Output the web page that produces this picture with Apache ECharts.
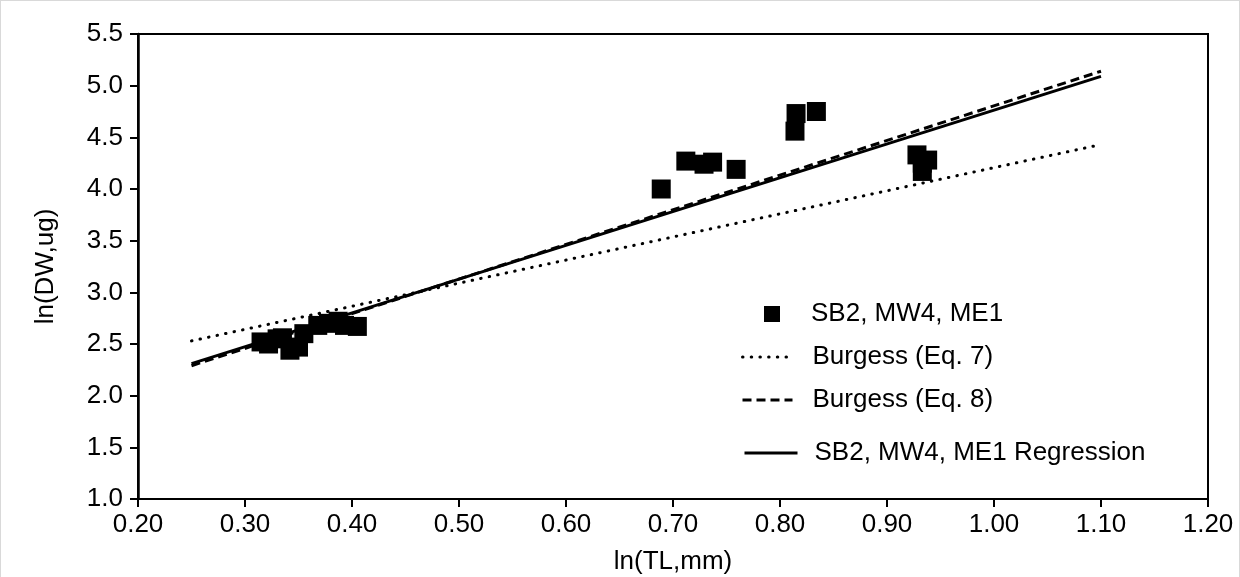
<!DOCTYPE html>
<html>
<head>
<meta charset="utf-8">
<script src="https://cdn.jsdelivr.net/npm/echarts@6/dist/echarts.min.js"></script>
<style>
html,body{margin:0;padding:0;background:#fff;}
#c{width:1238px;height:576px;border:1px solid #d9d9d9;border-bottom:none;}
</style>
</head>
<body>
<div id="c"></div>
<script>
// ---- data ----
const obsX = [0.315, 0.322, 0.330, 0.335, 0.342, 0.350, 0.355, 0.368, 0.378, 0.387, 0.393, 0.405,
              0.689, 0.712, 0.729, 0.737, 0.759,
              0.815, 0.814, 0.834,
              0.928, 0.933, 0.938, 0.933];
const obsY = [2.52, 2.50, 2.55, 2.56, 2.44, 2.47, 2.60, 2.68, 2.70, 2.72, 2.68, 2.67,
              4.00, 4.27, 4.24, 4.26, 4.19,
              4.73, 4.56, 4.75,
              4.33, 4.25, 4.28, 4.17];
const lineX = [0.25, 1.10];
const eq7Y = [2.53, 4.43];
const eq8Y = [2.29, 5.14];
const regY = [2.31, 5.09];
const names = ['SB2, MW4, ME1', 'Burgess (Eq. 7)', 'Burgess (Eq. 8)', 'SB2, MW4, ME1 Regression'];
const xTitle = 'ln(TL,mm)';
const yTitle = 'ln(DW,ug)';

const pairs = (xs, ys) => xs.map((x, i) => [x, ys[i]]);
const FONT = '"Liberation Sans", Arial, sans-serif';
const txt = {fontFamily: FONT, fontSize: 26, color: '#000'};
const dotted = {color: '#000', width: 3, type: [0.5, 8.2], cap: 'round'};
const dashed = {color: '#000', width: 3, type: [9, 5]};
const solid = {color: '#000', width: 3};

const chart = echarts.init(document.getElementById('c'));
function leg(name, left, top, w, h, pad, icon, ls) {
  const d = {name: name};
  if (icon) d.icon = icon;
  const o = {
    data: [d],
    left: left, top: top, orient: 'vertical', padding: 0,
    itemWidth: w, itemHeight: h, selectedMode: false,
    itemStyle: icon ? {opacity: 1} : {opacity: 0},
    textStyle: Object.assign({}, txt, {padding: [0, 0, 0, pad]})
  };
  if (ls) o.lineStyle = ls;
  return o;
}
chart.setOption({
  animation: false,
  backgroundColor: '#fff',
  grid: {left: 137, right: 31, top: 33, bottom: 78, show: true, borderColor: '#000', borderWidth: 2,
         outerBoundsMode: 'none', containLabel: false},
  legend: [
    leg(names[0], 763, 300, 16, 16, 26, 'rect'),
    leg(names[1], 740, 343, 50, 20, 15, null, dotted),
    leg(names[2], 740, 386, 50, 20, 15, null, dashed),
    leg(names[3], 742, 439, 53, 20, 12, null, solid)
  ],
  xAxis: {
    type: 'value', min: 0.2, max: 1.2, interval: 0.1,
    name: xTitle, nameLocation: 'middle', nameGap: 50, nameTextStyle: txt,
    axisLine: {lineStyle: {color: '#000', width: 2}},
    axisTick: {show: true, length: 8, lineStyle: {color: '#000', width: 2}},
    axisLabel: Object.assign({}, txt, {margin: 13, formatter: v => v.toFixed(2)}),
    splitLine: {show: false}
  },
  yAxis: {
    type: 'value', min: 1, max: 5.5, interval: 0.5,
    name: yTitle, nameLocation: 'middle', nameGap: 79, nameTextStyle: txt,
    axisLine: {lineStyle: {color: '#000', width: 2.5}},
    axisTick: {show: true, length: 8, lineStyle: {color: '#000', width: 2}},
    axisLabel: Object.assign({}, txt, {margin: 15, formatter: v => v.toFixed(1)}),
    splitLine: {show: false}
  },
  series: [
    {name: names[1], type: 'line', data: pairs(lineX, eq7Y), symbol: 'none',
     lineStyle: dotted, itemStyle: {color: '#000'}},
    {name: names[2], type: 'line', data: pairs(lineX, eq8Y), symbol: 'none',
     lineStyle: dashed, itemStyle: {color: '#000'}},
    {name: names[3], type: 'line', data: pairs(lineX, regY), symbol: 'none',
     lineStyle: solid, itemStyle: {color: '#000'}},
    {name: names[0], type: 'scatter', data: pairs(obsX, obsY), symbol: 'rect', symbolSize: 19,
     itemStyle: {color: '#000', opacity: 1}, z: 3}
  ]
});
</script>
</body>
</html>
